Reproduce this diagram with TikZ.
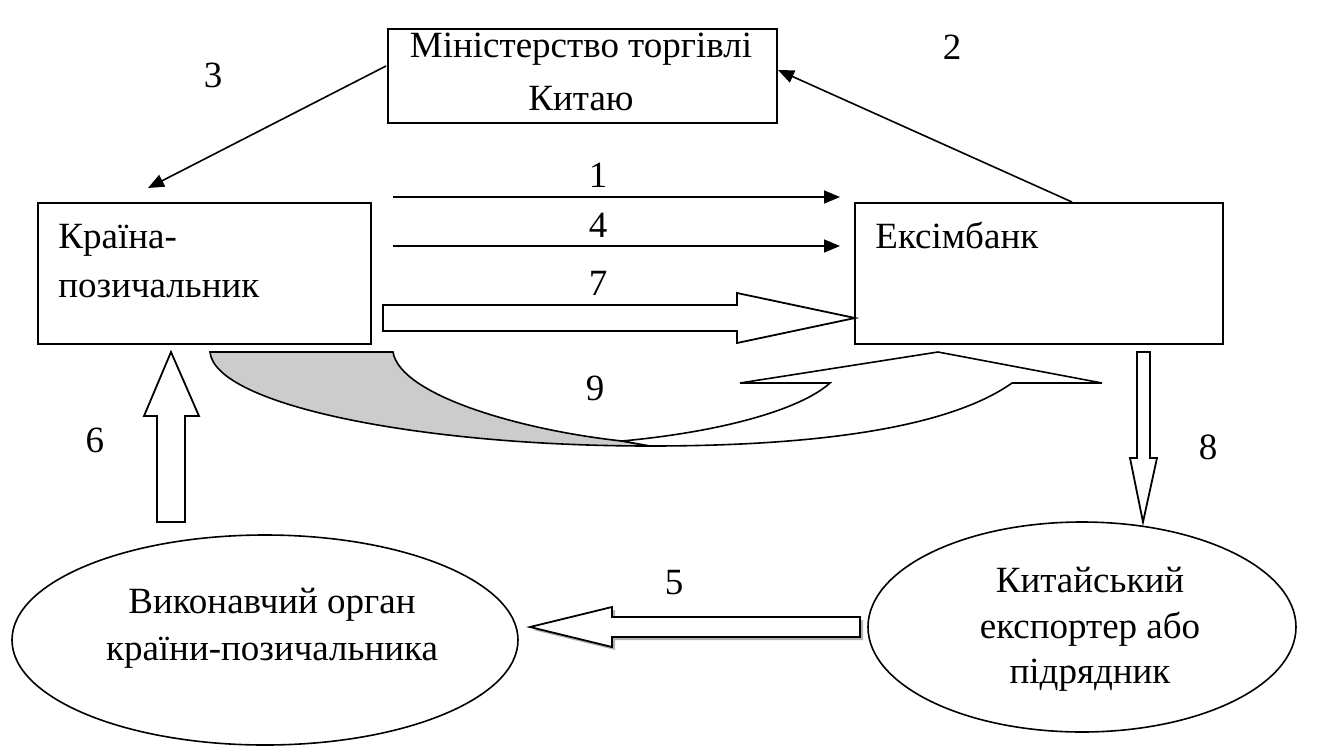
\documentclass[tikz,border=0pt]{standalone}
\usepackage{fontspec}
\setmainfont{Liberation Serif}
\newfontfamily\tnr{Liberation Serif}
\usetikzlibrary{arrows.meta,shapes.geometric}
\begin{document}
\begin{tikzpicture}[x=0.5pt,y=-0.5pt,
  every node/.style={font=\tnr\fontsize{18.5}{27}\selectfont},
  box/.style={draw, line width=1pt, inner sep=0pt, anchor=north west},
  oval/.style={draw, ellipse, line width=0.8pt, inner sep=0pt},
  txt/.style={inner sep=0pt, anchor=base},
  txtl/.style={inner sep=0pt, anchor=base west},
  lbl/.style={inner sep=0pt},
  conn/.style={line width=0.8pt, -{Triangle[length=8pt,width=6.5pt]}},
  blk/.style={draw, line width=0.9pt, fill=white, line join=miter}
]
\useasboundingbox (0,0) rectangle (1319,751);

% boxes
\node[box, minimum width=194.5pt, minimum height=47pt] (min) at (387,28) {};
\node[txt] (mint1) at (581,57) {Міністерство торгівлі};
\node[txt] (mint2) at (581,110) {Китаю};

\node[box, minimum width=166.5pt, minimum height=70.5pt] (kr) at (37,202) {};
\node[txtl] (krt1) at (58,248) {Країна-};
\node[txtl] (krt2) at (58,297) {позичальник};

\node[box, minimum width=184pt, minimum height=70.5pt] (ex) at (854,202) {};
\node[txtl] (ext) at (875,248) {Ексімбанк};

% ellipses
\node[oval, minimum width=253pt, minimum height=105pt] (vo) at (265,640) {};
\node[txt] (vot1) at (272,613) {Виконавчий орган};
\node[txt] (vot2) at (272,660) {країни-позичальника};

\node[oval, minimum width=214pt, minimum height=105pt] (ke) at (1082,627) {};
\node[txt] (ket1) at (1090,592) {Китайський};
\node[txt] (ket2) at (1090,638) {експортер або};
\node[txt] (ket3) at (1090,683) {підрядник};

% labels
\node[lbl] (l3) at (213,75) {3};
\node[lbl] (l2) at (952,47) {2};
\node[lbl] (l1) at (598,175) {1};
\node[lbl] (l4) at (598,225) {4};
\node[lbl] (l7) at (598,283) {7};
\node[lbl] (l9) at (595,388) {9};
\node[lbl] (l8) at (1208,447) {8};
\node[lbl] (l6) at (95,440) {6};
\node[lbl] (l5) at (674,583) {5};

% thin arrows
\coordinate (a3s) at (386,66);
\coordinate (a3e) at (148,188);
\draw[conn] (a3s) -- (a3e);
\coordinate (a2s) at (1072,202);
\coordinate (a2e) at (778,70);
\draw[conn] (a2s) -- (a2e);
\coordinate (a1s) at (393,197);
\coordinate (a1e) at (840,197);
\draw[conn] (a1s) -- (a1e);
\coordinate (a4s) at (393,246);
\coordinate (a4e) at (840,246);
\draw[conn] (a4s) -- (a4e);

% block arrow 7
\draw[blk] (383,305) -- (737,305) -- (737,293) -- (855,318) -- (737,343) -- (737,331) -- (383,331) -- cycle;

% block arrow 8
\draw[blk] (1137,352) -- (1150,352) -- (1150,458) -- (1157,458) -- (1143,522) -- (1130,458) -- (1137,458) -- cycle;

% block arrow 6
\draw[blk] (171,352) -- (199,416) -- (185,416) -- (185,522) -- (157,522) -- (157,416) -- (144,416) -- cycle;

% block arrow 5 with shadow
\fill[gray!60] (863,620) -- (863,640) -- (615,640) -- (615,650) -- (533,630) -- (615,610) -- (615,620) -- cycle;
\draw[blk] (860,617) -- (860,637) -- (612,637) -- (612,647) -- (530,627) -- (612,607) -- (612,617) -- cycle;

% curved arrow 9
\draw[line width=0.8pt, fill=gray!40] (210,352) -- (393,352)
  .. controls (400,395) and (520,430) .. (622,441)
  -- (650,446)
  .. controls (420,446) and (215,405) .. (210,352) -- cycle;
\draw[line width=0.8pt, fill=white, line join=miter] (622,441)
  .. controls (720,432) and (800,410) .. (830,383)
  -- (740,383) -- (938,352) -- (1102,383) -- (1012,383)
  .. controls (960,420) and (850,446) .. (650,446) -- cycle;
\end{tikzpicture}
\end{document}
